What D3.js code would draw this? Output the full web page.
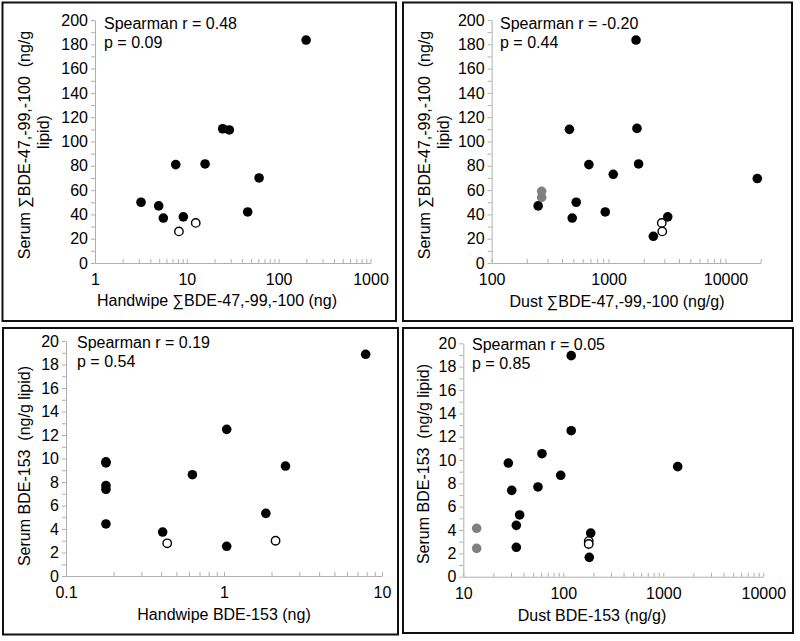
<!DOCTYPE html>
<html>
<head>
<meta charset="utf-8">
<script src="https://cdn.jsdelivr.net/npm/d3@7"></script>
<style>
  html, body { margin: 0; padding: 0; background: #fff; }
  svg text { font-family: "Liberation Sans", Arial, sans-serif; font-size: 16px; fill: #000; white-space: pre; }
</style>
</head>
<body>
<svg id="chart" width="800" height="641"></svg>
<script>
// ---------- DATA ----------
// Panel A: handwipe sum BDE-47,-99,-100 vs serum
const hwSumX = [3.17, 4.94, 5.55, 7.57, 9.16, 15.8, 24.6, 29, 61.2, 46, 199, 8.2, 12.5];
const hwSumY = [50, 47, 37, 81, 38, 81.5, 110.5, 109.5, 70, 42, 183.5, 26, 33];
const hwSumGroup = ["f","f","f","f","f","f","f","f","f","f","f","o","o"];

// Panel B: dust sum BDE-47,-99,-100 vs serum
const dustSumX = [463, 1750, 679, 1807, 1097, 18700, 529, 250, 268, 268, 489, 937, 3207, 2415, 2850, 2880, 1718];
const dustSumY = [110, 110.8, 81, 81.5, 73, 69.5, 50, 47, 59, 54, 37, 42, 38, 22, 33, 26, 183.5];
const dustSumGroup = ["f","f","f","f","f","f","f","f","g","g","f","f","f","f","o","o","f"];

// Panel C: handwipe BDE-153 vs serum
const hw153X = [0.179, 0.179, 0.179, 0.179, 0.179, 0.409, 0.631, 1.04, 1.04, 1.84, 2.45, 7.88, 0.437, 2.12];
const hw153Y = [9.72, 9.62, 7.69, 7.38, 4.43, 3.74, 8.62, 2.53, 12.48, 5.33, 9.36, 18.87, 2.78, 3.0];
const hw153Group = ["f","f","f","f","f","f","f","f","f","f","f","f","o","o"];

// Panel D: dust BDE-153 vs serum
const dust153X = [28.2, 61.2, 94.2, 30.5, 55.8, 36.6, 33.9, 33.9, 13.6, 13.6, 188, 179.5, 179.5, 182, 1393, 120, 120];
const dust153Y = [9.74, 10.54, 8.69, 7.4, 7.69, 5.29, 4.4, 2.52, 4.15, 2.43, 3.74, 3.05, 2.8, 1.66, 9.43, 12.51, 18.94];
const dust153Group = ["f","f","f","f","f","f","f","f","g","g","f","o","o","f","f","f","f"];

// Text
const xTitles = ["Handwipe ∑BDE-47,-99,-100 (ng)", "Dust ∑BDE-47,-99,-100 (ng/g)", "Handwipe BDE-153 (ng)", "Dust BDE-153 (ng/g)"];
const yTitles = [["Serum ∑BDE-47,-99,-100  (ng/g", "lipid)"], ["Serum ∑BDE-47,-99,-100  (ng/g", "lipid)"], ["Serum BDE-153  (ng/g lipid)"], ["Serum BDE-153  (ng/g lipid)"]];
const statR = ["Spearman r = 0.48", "Spearman r = -0.20", "Spearman r = 0.19", "Spearman r = 0.05"];
const statP = ["p = 0.09", "p = 0.44", "p = 0.54", "p = 0.85"];
const xDomains = [[1, 1000], [100, 20000], [0.1, 10], [10, 10000]];
const xTickLabels = [["1","10","100","1000"], ["100","1000","10000"], ["0.1","1","10"], ["10","100","1000","10000"]];
const yDomains = [[0, 200], [0, 200], [0, 20], [0, 20]];
const yLabelStep = [20, 20, 2, 2];
const yTickStep = [10, 10, 1, 1];

// ---------- LAYOUT ----------
const panels = [
  { box: [2.5, 2.5, 396, 321], xr: [95, 370.5], yr: [263, 20], ann: [104, 29], xt: [217, 306], yt: [[30, 145], [49, 132]] },
  { box: [403, 2.5, 792, 321], xr: [491.6, 760.7], yr: [263, 20], ann: [500, 29], xt: [617, 306.5], yt: [[430, 145], [449, 132]] },
  { box: [3, 328, 398, 634.5], xr: [66, 382], yr: [576, 341], ann: [77, 348], xt: [224, 620], yt: [[30, 466]] },
  { box: [403, 328, 793, 633], xr: [463.3, 763.3], yr: [576.7, 343.3], ann: [472, 350], xt: [592, 621], yt: [[429, 464]] }
];
const datasets = [
  [hwSumX, hwSumY, hwSumGroup],
  [dustSumX, dustSumY, dustSumGroup],
  [hw153X, hw153Y, hw153Group],
  [dust153X, dust153Y, dust153Group]
];

const svg = d3.select("#chart");
const axisColor = "#b0b0b0";
const R = 4.8;

panels.forEach((p, i) => {
  const g = svg.append("g");
  // border
  g.append("rect")
    .attr("x", p.box[0]).attr("y", p.box[1])
    .attr("width", p.box[2] - p.box[0]).attr("height", p.box[3] - p.box[1])
    .attr("fill", "none").attr("stroke", "#111").attr("stroke-width", 2);

  const x = d3.scaleLog().domain(xDomains[i]).range(p.xr);
  const y = d3.scaleLinear().domain(yDomains[i]).range(p.yr);

  // y axis: ticks every step, labels every labelStep
  const yTickVals = d3.range(yDomains[i][0], yDomains[i][1] + 1e-9, yTickStep[i]);
  const yAxis = d3.axisLeft(y).tickValues(yTickVals).tickSize(4).tickSizeOuter(0)
    .tickFormat(d => (Math.round(d / yLabelStep[i] * 1000) / 1000) % 1 === 0 ? d3.format("d")(d) : "");
  const ya = g.append("g").attr("transform", `translate(${p.xr[0]},0)`).call(yAxis);
  ya.select(".domain").attr("stroke", axisColor);
  ya.selectAll(".tick line").attr("stroke", axisColor);
  ya.selectAll(".tick text").attr("x", -7).attr("font-size", null).attr("fill", "#000").attr("font-family", null);

  // x axis (log): major decades labelled, minor ticks 2..9
  const xa = g.append("g").attr("transform", `translate(0,${p.yr[0]})`);
  const [dmin, dmax] = xDomains[i];
  const allTicks = [];
  for (let e = Math.floor(Math.log10(dmin)); e <= Math.ceil(Math.log10(dmax)); e++) {
    for (let m = 1; m <= 9; m++) {
      const v = m * Math.pow(10, e);
      if (v >= dmin * 0.999 && v <= dmax * 1.001) allTicks.push(v);
    }
  }
  const labelSet = new Set(xTickLabels[i]);
  const xAxis = d3.axisBottom(x).tickValues(allTicks).tickSize(-4).tickSizeOuter(0)
    .tickFormat(d => {
      const s = String(+d.toPrecision(6));
      return labelSet.has(s) ? s : "";
    });
  xa.call(xAxis);
  xa.select(".domain").attr("stroke", axisColor);
  xa.selectAll(".tick line").attr("stroke", axisColor);
  xa.selectAll(".tick text").attr("y", 11).attr("dy", "0.71em").attr("font-size", null).attr("fill", "#000").attr("font-family", null);

  // titles
  g.append("text").attr("x", p.xt[0]).attr("y", p.xt[1]).attr("text-anchor", "middle").text(xTitles[i]);
  yTitles[i].forEach((line, k) => {
    g.append("text")
      .attr("transform", `translate(${p.yt[k][0]},${p.yt[k][1]}) rotate(-90)`)
      .attr("text-anchor", "middle").text(line);
  });

  // annotation
  g.append("text").attr("x", p.ann[0]).attr("y", p.ann[1]).text(statR[i]);
  g.append("text").attr("x", p.ann[0]).attr("y", p.ann[1] + 19).text(statP[i]);

  // points: filled, then gray, then open on top
  const [xs, ys, gs] = datasets[i];
  const pts = xs.map((v, k) => ({ x: v, y: ys[k], g: gs[k] }));
  const order = { f: 0, g: 1, o: 2 };
  pts.sort((a, b) => order[a.g] - order[b.g]);
  g.append("g").selectAll("circle").data(pts).join("circle")
    .attr("cx", d => x(d.x)).attr("cy", d => y(d.y))
    .attr("r", d => d.g === "o" ? R - 0.6 : R)
    .attr("fill", d => d.g === "f" ? "#000" : d.g === "g" ? "#808080" : "#fff")
    .attr("stroke", d => d.g === "o" ? "#000" : "none")
    .attr("stroke-width", d => d.g === "o" ? 1.4 : 0);
});
</script>
</body>
</html>
